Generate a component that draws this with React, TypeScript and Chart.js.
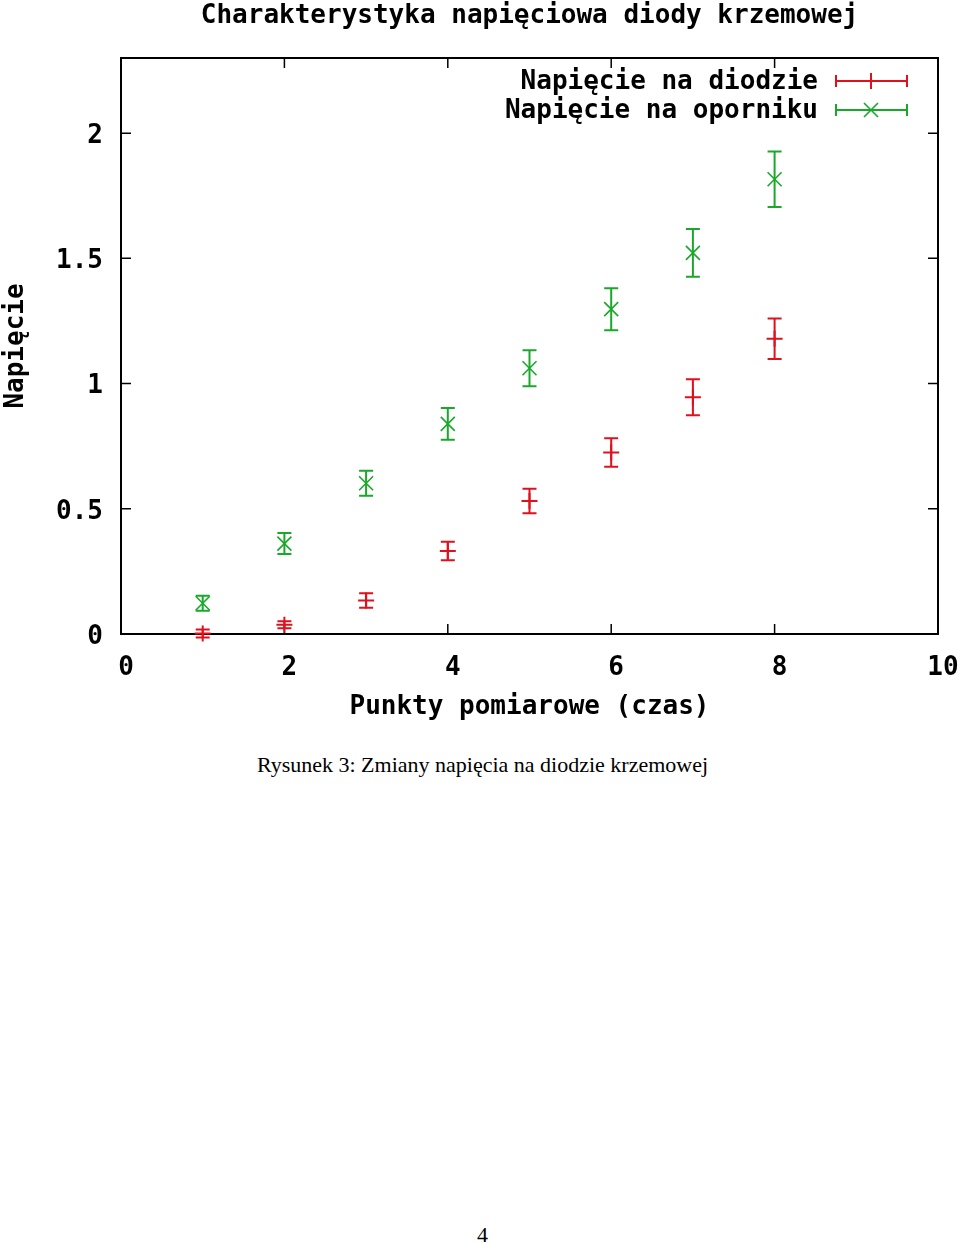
import React, { useEffect, useRef } from 'react';
import { Chart, registerables } from 'chart.js';

Chart.register(...registerables);

const titleText = 'Charakterystyka napięciowa diody krzemowej';
const xAxisTitle = 'Punkty pomiarowe (czas)';
const yAxisTitle = 'Napięcie';
const xPoints = [1, 2, 3, 4, 5, 6, 7, 8];
const diodeValues = [0.002, 0.037, 0.134, 0.331, 0.531, 0.725, 0.945, 1.179];
const diodeErrors = [0.016, 0.014, 0.029, 0.037, 0.049, 0.057, 0.072, 0.081];
const resistorValues = [0.123, 0.361, 0.602, 0.839, 1.061, 1.297, 1.522, 1.816];
const resistorErrors = [0.03, 0.042, 0.05, 0.063, 0.072, 0.084, 0.095, 0.111];
const xTicks = [0, 2, 4, 6, 8, 10];
const yTicks = [0, 0.5, 1, 1.5, 2];
const seriesLabels = ['Napięcie na diodzie', 'Napięcie na oporniku'];
const seriesColors = ['#e0101c', '#1aa82a'];
const caption = 'Rysunek 3: Zmiany napięcia na diodzie krzemowej';
const pageNumber = '4';

const errorSets = [diodeErrors, resistorErrors];
const FONT = "'DejaVu Sans Mono', monospace";

function drawMarker(ctx: CanvasRenderingContext2D, kind: number, px: number, py: number, color: string) {
  ctx.save();
  ctx.strokeStyle = color;
  ctx.beginPath();
  if (kind === 0) {
    ctx.lineWidth = 2;
    ctx.moveTo(px - 8, py);
    ctx.lineTo(px + 8, py);
    ctx.moveTo(px, py - 8);
    ctx.lineTo(px, py + 8);
  } else {
    ctx.lineWidth = 1.6;
    ctx.moveTo(px - 7, py - 7);
    ctx.lineTo(px + 7, py + 7);
    ctx.moveTo(px - 7, py + 7);
    ctx.lineTo(px + 7, py - 7);
  }
  ctx.stroke();
  ctx.restore();
}

const gnuplotPlugin = {
  id: 'gnuplotLook',
  beforeDatasetsDraw(chart: any) {
    const { ctx, chartArea: a, scales } = chart;
    const x = scales.x;
    const y = scales.y;
    ctx.save();
    ctx.strokeStyle = '#000';
    ctx.lineWidth = 2;
    ctx.strokeRect(a.left, a.top, a.right - a.left, a.bottom - a.top);
    ctx.lineWidth = 1.5;
    ctx.beginPath();
    xTicks.forEach((v) => {
      const px = x.getPixelForValue(v);
      ctx.moveTo(px, a.bottom);
      ctx.lineTo(px, a.bottom - 10);
      ctx.moveTo(px, a.top);
      ctx.lineTo(px, a.top + 10);
    });
    yTicks.forEach((v) => {
      const py = y.getPixelForValue(v);
      ctx.moveTo(a.left, py);
      ctx.lineTo(a.left + 10, py);
      ctx.moveTo(a.right, py);
      ctx.lineTo(a.right - 10, py);
    });
    ctx.stroke();

    chart.data.datasets.forEach((ds: any, i: number) => {
      const errs = errorSets[i];
      ctx.strokeStyle = seriesColors[i];
      ctx.lineWidth = 2;
      ds.data.forEach((p: any, j: number) => {
        const px = x.getPixelForValue(p.x);
        const lo = y.getPixelForValue(p.y - errs[j]);
        const hi = y.getPixelForValue(p.y + errs[j]);
        ctx.beginPath();
        ctx.moveTo(px, lo);
        ctx.lineTo(px, hi);
        ctx.moveTo(px - 7, lo);
        ctx.lineTo(px + 7, lo);
        ctx.moveTo(px - 7, hi);
        ctx.lineTo(px + 7, hi);
        ctx.stroke();
      });
    });
    ctx.restore();
  },
  afterDatasetsDraw(chart: any) {
    const { ctx, scales } = chart;
    const x = scales.x;
    const y = scales.y;
    chart.data.datasets.forEach((ds: any, i: number) => {
      ds.data.forEach((p: any) => {
        drawMarker(ctx, i, x.getPixelForValue(p.x), y.getPixelForValue(p.y), seriesColors[i]);
      });
    });
  },
  afterDraw(chart: any) {
    const { ctx, chartArea: a } = chart;
    ctx.save();
    ctx.fillStyle = '#000';
    ctx.font = `bold 26px ${FONT}`;
    ctx.textAlign = 'center';
    ctx.textBaseline = 'middle';
    ctx.fillText(titleText, (a.left + a.right) / 2, 16);

    const rows = [81, 110];
    ctx.textAlign = 'right';
    seriesLabels.forEach((label, i) => {
      const ry = rows[i];
      ctx.fillStyle = '#000';
      ctx.fillText(label, 818, ry + 1);
      ctx.strokeStyle = seriesColors[i];
      ctx.lineWidth = 2;
      ctx.beginPath();
      ctx.moveTo(836, ry);
      ctx.lineTo(907, ry);
      ctx.moveTo(836, ry - 6);
      ctx.lineTo(836, ry + 6);
      ctx.moveTo(907, ry - 6);
      ctx.lineTo(907, ry + 6);
      ctx.stroke();
      drawMarker(ctx, i, 871, ry, seriesColors[i]);
    });
    ctx.restore();
  },
};

export default function App() {
  const canvasRef = useRef<HTMLCanvasElement | null>(null);

  useEffect(() => {
    if (!canvasRef.current) return;
    const chart = new Chart(canvasRef.current, {
      type: 'scatter',
      data: {
        datasets: [
          {
            label: seriesLabels[0],
            data: xPoints.map((xv, i) => ({ x: xv, y: diodeValues[i] })),
            borderColor: seriesColors[0],
            backgroundColor: seriesColors[0],
            pointRadius: 0,
            showLine: false,
            clip: false as any,
          },
          {
            label: seriesLabels[1],
            data: xPoints.map((xv, i) => ({ x: xv, y: resistorValues[i] })),
            borderColor: seriesColors[1],
            backgroundColor: seriesColors[1],
            pointRadius: 0,
            showLine: false,
            clip: false as any,
          },
        ],
      },
      options: {
        animation: false,
        responsive: false,
        maintainAspectRatio: false,
        devicePixelRatio: 1,
        layout: { padding: { top: 58, right: 22, left: 0, bottom: 0 } },
        plugins: {
          legend: { display: false },
          title: { display: false },
          tooltip: { enabled: false },
        },
        scales: {
          x: {
            type: 'linear',
            min: 0,
            max: 10,
            grid: { display: false, drawTicks: false },
            border: { display: false },
            afterBuildTicks: (scale: any) => {
              scale.ticks = xTicks.map((v) => ({ value: v }));
            },
            afterFit: (scale: any) => {
              scale.height = 96;
              scale.paddingLeft = 0;
              scale.paddingRight = 0;
            },
            ticks: {
              color: '#000',
              padding: 19,
              labelOffset: 5,
              maxRotation: 0,
              font: { family: FONT, size: 26, weight: 'bold' },
              callback: (v: any) => String(v),
            },
            title: {
              display: true,
              text: xAxisTitle,
              color: '#000',
              padding: { top: 0, bottom: 7 },
              font: { family: FONT, size: 26, weight: 'bold' },
            },
          },
          y: {
            type: 'linear',
            min: 0,
            max: 2.3,
            grid: { display: false, drawTicks: false },
            border: { display: false },
            afterBuildTicks: (scale: any) => {
              scale.ticks = yTicks.map((v) => ({ value: v }));
            },
            afterFit: (scale: any) => {
              scale.width = 121;
              scale.paddingTop = 0;
              scale.paddingBottom = 0;
            },
            ticks: {
              color: '#000',
              padding: 18,
              labelOffset: 3,
              font: { family: FONT, size: 26, weight: 'bold' },
              callback: (v: any) => String(v),
            },
            title: {
              display: true,
              text: yAxisTitle,
              color: '#000',
              padding: { top: 3, bottom: 0 },
              font: { family: FONT, size: 26, weight: 'bold', lineHeight: 1 },
            },
          },
        },
      } as any,
      plugins: [gnuplotPlugin],
    });
    return () => chart.destroy();
  }, []);

  const textStyle = {
    position: 'absolute' as const,
    left: 0,
    width: 965,
    textAlign: 'center' as const,
    fontFamily: "'Liberation Serif', 'Times New Roman', serif",
    fontSize: 22,
    lineHeight: '28px',
    color: '#000',
  };

  return (
    <div style={{ position: 'absolute', left: 0, top: 0, width: 960, height: 1243, background: '#fff' }}>
      <canvas ref={canvasRef} width={960} height={730} style={{ position: 'absolute', left: 0, top: 0, width: 960, height: 730 }} />
      <div style={{ ...textStyle, top: 751 }}>{caption}</div>
      <div style={{ ...textStyle, top: 1221 }}>{pageNumber}</div>
    </div>
  );
}
